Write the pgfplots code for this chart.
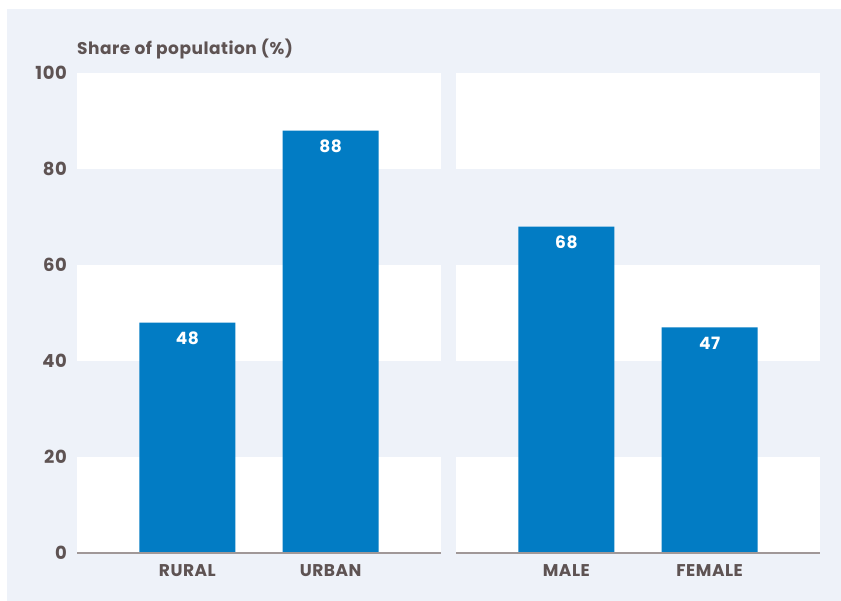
\documentclass[border=0pt]{standalone}
\usepackage{fontspec}
\setmainfont{Poppins}
\usepackage{pgfplots}
\pgfplotsset{compat=1.18}
\definecolor{bg}{RGB}{238,242,249}
\definecolor{barc}{RGB}{2,124,196}
\definecolor{txt}{RGB}{94,83,83}
\definecolor{axl}{RGB}{160,152,152}
\newcommand{\lbl}[1]{\fontsize{#1}{#1}\selectfont\bfseries\addfontfeatures{LetterSpace=3}}
\begin{document}
\begin{tikzpicture}[x=1bp,y=1bp]
\path[use as bounding box] (0,0) rectangle (841,601);
\fill[white] (0,0) rectangle (841,601);
\fill[bg] (7,0) rectangle (841,592);
\node[anchor=base west, text=txt, font=\lbl{17bp}, inner sep=0pt] at (77,546) {Share of population (\%)};
\pgfplotsset{
 mybar/.style={
  scale only axis, width=364bp, height=480bp,
  ymin=0, ymax=100, xmin=-0.77, xmax=1.77,
  ybar, bar width=96bp,
  axis line style={draw=none}, major tick length=0pt,
  ytick={0,20,40,60,80,100},
  xtick=data,
  /pgf/number format/assume math mode=true,
  yticklabel style={text=txt, font=\lbl{18bp}, inner sep=0pt, anchor=east, xshift=-10bp},
  xticklabel style={text=txt, font=\lbl{17bp}, inner sep=0pt, anchor=base, yshift=-24bp},
  nodes near coords,
  every node near coord/.append style={anchor=base, yshift=-22bp, text=white, font=\lbl{17bp}, inner sep=0pt},
  clip=false,
 }
}
\begin{axis}[mybar, at={(77bp,48bp)}, anchor=south west, xticklabels={RURAL,URBAN}]
\fill[white] (rel axis cs:0,0) rectangle (rel axis cs:1,0.2);
\fill[white] (rel axis cs:0,0.4) rectangle (rel axis cs:1,0.6);
\fill[white] (rel axis cs:0,0.8) rectangle (rel axis cs:1,1);
\addplot[fill=barc, draw=none] coordinates {(0,48) (1,88)};
\draw[axl, line width=2bp] (rel axis cs:0,0) -- (rel axis cs:1,0);
\end{axis}
\begin{axis}[mybar, at={(456bp,48bp)}, anchor=south west, xticklabels={MALE,FEMALE}, yticklabels={}]
\fill[white] (rel axis cs:0,0) rectangle (rel axis cs:1,0.2);
\fill[white] (rel axis cs:0,0.4) rectangle (rel axis cs:1,0.6);
\fill[white] (rel axis cs:0,0.8) rectangle (rel axis cs:1,1);
\addplot[fill=barc, draw=none] coordinates {(0,68) (1,47)};
\draw[axl, line width=2bp] (rel axis cs:0,0) -- (rel axis cs:1,0);
\end{axis}
\end{tikzpicture}
\end{document}
